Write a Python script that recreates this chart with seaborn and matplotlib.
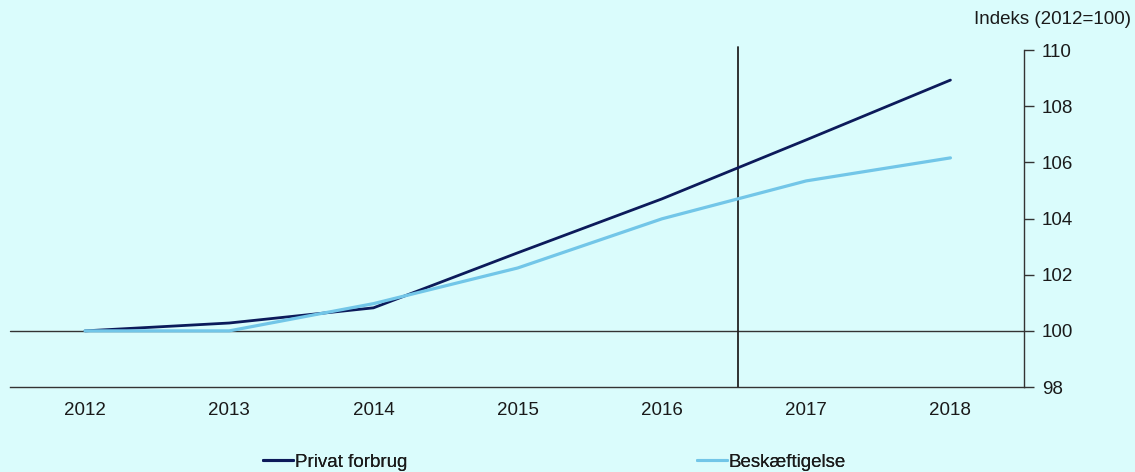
import numpy as np
import pandas as pd
import matplotlib
matplotlib.use("Agg")
import matplotlib.pyplot as plt
import seaborn as sns

# Annual index values, 2012 = 100
years = [2012, 2013, 2014, 2015, 2016, 2017, 2018]
privat_forbrug = [100.0, 100.28, 100.82, 102.78, 104.70, 106.80, 108.93]
beskaeftigelse = [100.0, 100.0, 100.97, 102.24, 103.99, 105.34, 106.16]
series_names = ["Privat forbrug", "Beskæftigelse"]
series_colors = ["#0C1A5A", "#72C6E8"]
y_ticks = [98, 100, 102, 104, 106, 108, 110]
x_ticks = years
forecast_start = 2016.53

bg = "#DAFCFC"
txt = "#1A1A1A"
fs = 13.5

sns.set_theme(style="white")
plt.rcParams["font.family"] = ["Liberation Sans", "DejaVu Sans"]

df = pd.DataFrame({
    "År": years * 2,
    "Indeks": privat_forbrug + beskaeftigelse,
    "Serie": [series_names[0]] * len(years) + [series_names[1]] * len(years),
})

fig = plt.figure(figsize=(11.35, 4.72), dpi=100, facecolor=bg)
ax = fig.add_axes([0.0088, 0.180, 0.8934, 0.714])
ax.set_facecolor(bg)

# Reference lines: index base and forecast divider
ax.axhline(100, color="#333333", lw=1.0, zorder=1, clip_on=False)
ax.axvline(forecast_start, color="#222222", lw=1.3, zorder=1, ymax=1.01, clip_on=False)

sns.lineplot(data=df, x="År", y="Indeks", hue="Serie", palette=series_colors,
             hue_order=series_names, ax=ax, legend=False, zorder=3)
ax.lines[-2].set_linewidth(2.0)
ax.lines[-1].set_linewidth(2.3)

ax.set_xlim(2011.48, 2018.51)
ax.set_ylim(98, 110)
ax.set_xticks(x_ticks)
ax.set_xticklabels([str(y) for y in x_ticks])
ax.set_yticks(y_ticks)
ax.set_yticklabels([str(v) for v in y_ticks])
ax.yaxis.tick_right()
ax.set_xlabel("")
ax.set_ylabel("")

for s in ["top", "left"]:
    ax.spines[s].set_visible(False)
ax.spines["right"].set_color("#333333")
ax.spines["right"].set_linewidth(1.0)
ax.spines["bottom"].set_color("#333333")
ax.spines["bottom"].set_linewidth(1.0)

ax.tick_params(axis="x", length=0, pad=11, labelsize=fs, colors=txt)
ax.tick_params(axis="y", which="both", right=True, left=False, direction="out",
               length=7, width=1.0, color="#333333", pad=6, labelsize=fs,
               labelcolor=txt)

fig.text(1131 / 1135, (472 - 20) / 472, "Indeks (2012=100)", ha="right",
         va="center", fontsize=fs, color=txt)

# Legend entries, each anchored on its own below the plot
legend_x = [263 / 1135, 697 / 1135]
for name, color, lx in zip(series_names, series_colors, legend_x):
    h = plt.Line2D([], [], color=color, lw=2.2)
    leg = fig.legend([h], [name], loc="center left",
                     bbox_to_anchor=(lx, 10 / 472), frameon=False,
                     fontsize=fs, handlelength=1.6, handletextpad=0.1,
                     labelcolor=txt, borderaxespad=0, borderpad=0)
    fig.add_artist(leg)

fig.savefig("out.png", dpi=100, facecolor=bg)
